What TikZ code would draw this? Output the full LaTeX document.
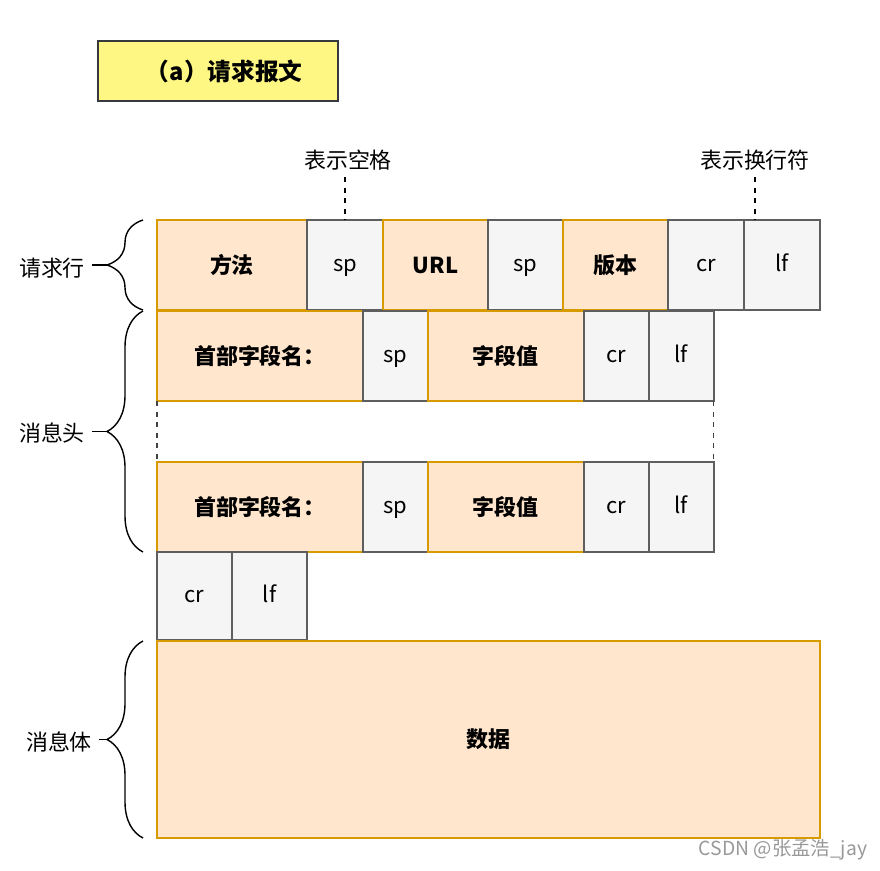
\documentclass[tikz,border=0pt]{standalone}
\usepackage{fontspec}
\setmainfont{Noto Sans CJK SC}
\usetikzlibrary{positioning,decorations.pathreplacing}
\definecolor{fieldfill}{HTML}{FFE6CC}
\definecolor{fieldline}{HTML}{D79B00}
\definecolor{ctrlfill}{HTML}{F5F5F5}
\definecolor{ctrlline}{HTML}{5E5E5E}
\definecolor{titlefill}{HTML}{FFF783}
\definecolor{titleline}{HTML}{36393D}
\tikzset{every picture/.style={line width=1.2pt}}

\begin{document}
\begin{tikzpicture}[x=0.02cm, y=-0.02cm,
    every node/.style={font=\fontsize{12.5}{14}\selectfont},
    field/.style={draw=fieldline, fill=fieldfill, minimum height=1.8cm, inner sep=0pt, outer sep=0pt, font=\fontsize{12.5}{14}\selectfont\bfseries},
    ctrl/.style={draw=ctrlline, fill=ctrlfill, minimum height=1.8cm, inner sep=0pt, outer sep=0pt, line width=1.4pt, text height=1.4ex, text depth=0.1ex},
    brace/.style={decorate, decoration={brace, amplitude=0.72cm}, line width=0.8pt}]
    \useasboundingbox (0,0) rectangle (880,870);

    % title
    \node[draw=titleline, fill=titlefill, anchor=north west, minimum width=4.8cm, minimum height=1.2cm, font=\fontsize{13.5}{15}\selectfont\bfseries] (title) at (97,40) {\hspace{0.25cm}（a）请求报文};

    % request line
    \node[field, anchor=north west, minimum width=3cm] (method) at (157,220) {方法};
    \node[ctrl, right=0pt of method, minimum width=1.52cm] (sp1) {sp};
    \node[field, right=0pt of sp1, minimum width=2.1cm] (url) {URL};
    \node[ctrl, right=0pt of url, minimum width=1.5cm] (sp2) {sp};
    \node[field, right=0pt of sp2, minimum width=2.1cm] (version) {版本};
    \node[ctrl, right=0pt of version, minimum width=1.52cm] (cr1) {cr};
    \node[ctrl, right=0pt of cr1, minimum width=1.52cm] (lf1) {lf};

    % header lines
    \node[field, anchor=north west, minimum width=4.12cm] (name2) at (157,311) {首部字段名：};
    \node[ctrl, right=0pt of name2, minimum width=1.3cm] (sp3) {sp};
    \node[field, right=0pt of sp3, minimum width=3.12cm] (value2) {字段值};
    \node[ctrl, right=0pt of value2, minimum width=1.3cm] (cr2) {cr};
    \node[ctrl, right=0pt of cr2, minimum width=1.3cm] (lf2) {lf};

    \node[field, anchor=north west, minimum width=4.12cm] (name3) at (157,462) {首部字段名：};
    \node[ctrl, right=0pt of name3, minimum width=1.3cm] (sp4) {sp};
    \node[field, right=0pt of sp4, minimum width=3.12cm] (value3) {字段值};
    \node[ctrl, right=0pt of value3, minimum width=1.3cm] (cr3) {cr};
    \node[ctrl, right=0pt of cr3, minimum width=1.3cm] (lf3) {lf};

    \draw[dashed, line width=0.6pt, ctrlline!70!black] (name2.south west) -- (name3.north west);
    \draw[dashed, line width=0.6pt, ctrlline!70!black] (lf2.south east) -- (lf3.north east);

    % empty line
    \node[ctrl, anchor=north west, minimum width=1.5cm, minimum height=1.76cm] (cr4) at (157,552) {cr};
    \node[ctrl, right=0pt of cr4, minimum width=1.5cm, minimum height=1.76cm] (lf4) {lf};

    % body
    \node[field, anchor=north west, minimum width=13.26cm, minimum height=3.94cm] (data) at (157,641) {数据};

    % notes
    \node (spnote) at (348,160) {表示空格};
    \node (crlfnote) at (755,160) {表示换行符};
    \draw[dashed, line width=0.7pt] (spnote.south -| sp1.north) -- (sp1.north);
    \draw[dashed, line width=0.7pt] (crlfnote.south) -- (crlfnote.south |- lf1.north);

    % braces
    \draw[brace] (143,310) -- (143,220);
    \draw[brace] (143,552) -- (143,311);
    \draw[brace] (143,838) -- (143,641);
    \node (reqline) at (52,268) {请求行};
    \node (headers) at (52,433) {消息头};
    \node (body) at (59,742) {消息体};
    \coordinate (tip1) at (108,265);
    \coordinate (tip2) at (108,431.5);
    \coordinate (tip3) at (108,739.5);
    \draw[line width=0.8pt] (reqline.east |- tip1) -- (tip1);
    \draw[line width=0.8pt] (headers.east |- tip2) -- (tip2);
    \draw[line width=0.8pt] (body.east |- tip3) -- (tip3);

    \node[text=gray!80, font=\fontsize{11}{13}\selectfont] (mark) at (783,850) {CSDN @张孟浩\_jay};
\end{tikzpicture}
\end{document}
